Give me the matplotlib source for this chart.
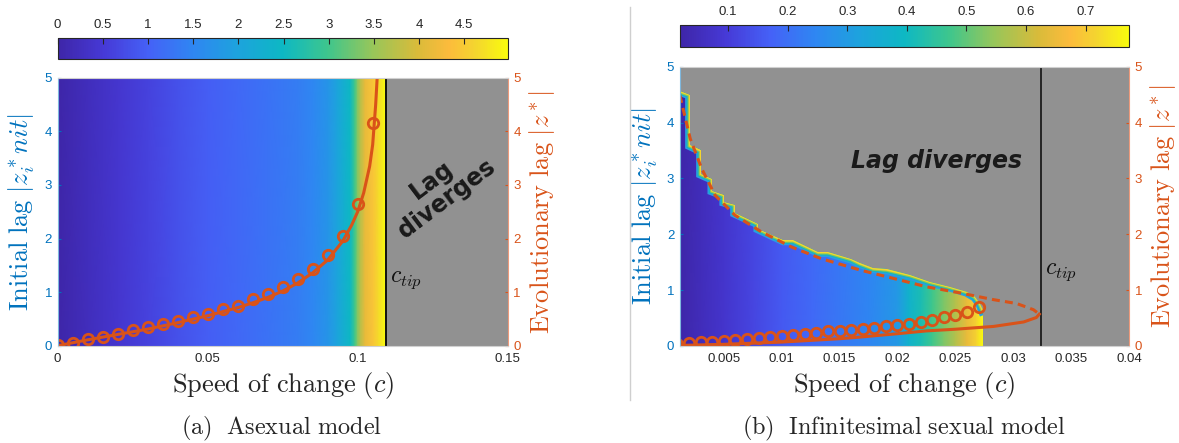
import numpy as np
import matplotlib
matplotlib.use('Agg')
import matplotlib.pyplot as plt
from matplotlib.colors import LinearSegmentedColormap
from matplotlib.patches import Polygon
from matplotlib.lines import Line2D

plt.rcParams['font.family'] = ['Liberation Sans', 'DejaVu Sans']
plt.rcParams['mathtext.fontset'] = 'cm'

BLUE = '#0072BD'
ORANGE = '#D95319'
GRAY = '#919191'
TXT = '#262626'

# ---------------- data, panel (a) asexual model ----------------
a_map_c = [0, 0.01, 0.02, 0.03, 0.04, 0.05, 0.06, 0.07, 0.08, 0.085, 0.09, 0.093,
           0.0975, 0.099, 0.1, 0.101, 0.1025, 0.105, 0.107, 0.109, 0.1096]
a_map_val = [0.0, 0.22, 0.42, 0.62, 0.8, 0.97, 1.1, 1.24, 1.38, 1.5, 1.75, 2.0,
             2.49, 2.99, 3.39, 3.74, 4.13, 4.43, 4.68, 4.93, 4.98]
a_c_tip = 0.1096

a_circ_c = [0, 0.005, 0.01, 0.015, 0.02, 0.025, 0.03, 0.035, 0.04, 0.045, 0.05,
            0.055, 0.06, 0.065, 0.07, 0.075, 0.08, 0.085, 0.09, 0.095, 0.1, 0.105]
a_circ_lag = [0.02, 0.06, 0.125, 0.17, 0.22, 0.29, 0.34, 0.40, 0.47, 0.53, 0.60,
              0.68, 0.75, 0.87, 0.96, 1.09, 1.24, 1.43, 1.69, 2.05, 2.64, 4.15]

a_line_c = [0, 0.01, 0.02, 0.03, 0.04, 0.05, 0.06, 0.065, 0.07, 0.075, 0.08, 0.085,
            0.09, 0.095, 0.098, 0.1, 0.102, 0.104, 0.105, 0.106, 0.1065, 0.107]
a_line_lag = [0, 0.11, 0.21, 0.31, 0.43, 0.56, 0.71, 0.80, 0.90, 1.02, 1.17, 1.36,
              1.60, 1.95, 2.25, 2.50, 2.85, 3.35, 3.75, 4.5, 5.0, 5.6]

# ---------------- data, panel (b) infinitesimal sexual model ----------------
b_map_c = [0.0012, 0.003, 0.005, 0.0075, 0.01, 0.0125, 0.015, 0.0175, 0.02, 0.021,
           0.022, 0.023, 0.024, 0.025, 0.026, 0.0268, 0.02736]
b_map_val = [0.019, 0.049, 0.079, 0.117, 0.155, 0.185, 0.215, 0.245, 0.290, 0.373,
             0.419, 0.471, 0.524, 0.577, 0.645, 0.713, 0.773]

b_bnd_c = [0.0012, 0.00208, 0.00208, 0.00303, 0.00303, 0.00401, 0.00401, 0.00504,
           0.00504, 0.00597, 0.00597, 0.00798, 0.00798, 0.01014, 0.0110, 0.01316,
           0.0140, 0.0160, 0.01677, 0.01791, 0.01907, 0.0211, 0.02281, 0.02454,
           0.02598, 0.0267, 0.02713, 0.02736, 0.02736]
b_bnd_v = [4.56, 4.50, 3.59, 3.50, 3.08, 2.99, 2.78, 2.70, 2.58, 2.53, 2.38, 2.19,
           2.10, 1.89, 1.89, 1.68, 1.68, 1.56, 1.48, 1.39, 1.37, 1.27, 1.15, 1.06,
           0.97, 0.88, 0.76, 0.64, 0.0]
b_c_tip = 0.0324

b_circ_c = [0.001, 0.002, 0.003, 0.004, 0.005, 0.006, 0.007, 0.008, 0.009, 0.010,
            0.011, 0.012, 0.013, 0.014, 0.015, 0.016, 0.017, 0.018, 0.019, 0.020,
            0.021, 0.022, 0.023, 0.024, 0.025, 0.026, 0.027]
b_circ_lag = [0.04, 0.05, 0.07, 0.08, 0.095, 0.11, 0.13, 0.15, 0.165, 0.185,
              0.20, 0.22, 0.24, 0.26, 0.275, 0.29, 0.31, 0.33, 0.35, 0.375,
              0.40, 0.43, 0.47, 0.51, 0.56, 0.61, 0.70]

b_unst_c = [0.0012, 0.0021, 0.0031, 0.00424, 0.00597, 0.00827, 0.01087, 0.01346,
            0.01677, 0.01964, 0.0225, 0.0254, 0.02828, 0.0303, 0.03174, 0.03225]
b_unst_lag = [4.49, 3.71, 3.17, 2.70, 2.34, 2.04, 1.77, 1.56, 1.36, 1.21, 1.06,
              0.95, 0.83, 0.76, 0.65, 0.57]
b_st_c = [0.0012, 0.005, 0.01, 0.015, 0.0168, 0.02, 0.0225, 0.025, 0.0283, 0.0309,
          0.032, 0.03225]
b_st_lag = [0.01, 0.03, 0.07, 0.13, 0.16, 0.22, 0.27, 0.30, 0.35, 0.43, 0.51, 0.57]

# parula-like colormap
parula = LinearSegmentedColormap.from_list('parula_like', [
    (0.0, '#3E26A8'), (0.1, '#4639D6'), (0.2, '#4561F7'), (0.3, '#2F86F2'),
    (0.4, '#1DA3DD'), (0.5, '#0DB8C4'), (0.6, '#3EC68D'), (0.7, '#97C65A'),
    (0.8, '#D9BB3A'), (0.87, '#FCBB3C'), (0.93, '#F4D52F'), (1.0, '#F9FB0E')])

fig = plt.figure(figsize=(11.79, 4.43), dpi=100)

ylab_l = r'$\mathrm{Initial\ lag}\ |z_i^* nit|$'
ylab_r = r'$\mathrm{Evolutionary\ lag}\ |z^*|$'
xlab = r'$\mathrm{Speed\ of\ change}\ (c)$'


def dress(ax, ax2, lx, rx):
    for s in ax.spines.values():
        s.set_visible(False)
    ax2.spines['left'].set_color('#7FB8DE')
    ax2.spines['right'].set_color('#EC9A7C')
    ax2.spines['top'].set_color('#D0D0D0')
    ax2.spines['bottom'].set_color('#D0D0D0')
    for s in ax2.spines.values():
        s.set_linewidth(0.8)
    ax.set_ylim(0, 5)
    ax2.set_ylim(0, 5)
    ax.set_yticks(range(6))
    ax2.set_yticks(range(6))
    ax.tick_params(axis='y', colors=BLUE, labelsize=9.5, direction='in', length=2, pad=4)
    ax2.tick_params(axis='y', colors=ORANGE, labelsize=9.5, direction='in', length=2, pad=4)
    ax.tick_params(axis='x', colors=TXT, labelsize=9.5, length=0, pad=5)
    ax.set_ylabel(ylab_l, color=BLUE, fontsize=19)
    ax.yaxis.set_label_coords(lx, 0.5)
    ax2.set_ylabel(ylab_r, color=ORANGE, fontsize=19)
    ax2.yaxis.set_label_coords(rx, 0.5)
    ax.set_xlabel(xlab, color=TXT, fontsize=19, labelpad=4)


def cbar(mesh, rect, ticks, labels):
    cax = fig.add_axes(rect)
    cb = fig.colorbar(mesh, cax=cax, orientation='horizontal')
    cb.set_ticks(ticks)
    cb.set_ticklabels(labels)
    cax.xaxis.set_ticks_position('top')
    cax.tick_params(direction='in', length=4, labelsize=9.5, colors=TXT, pad=5, width=0.8)
    cb.outline.set_edgecolor(TXT)
    cb.outline.set_linewidth(0.8)


# ---------------- panel (a) ----------------
ax = fig.add_axes([0.0489, 0.2196, 0.3817, 0.605])
ax.set_facecolor(GRAY)
mesh_a = ax.pcolormesh(a_map_c, [0, 5], np.tile(a_map_val, (2, 1)), cmap=parula,
                       vmin=0, vmax=4.98, shading='gouraud')
ax.axvline(a_c_tip, color='#111111', lw=1.4)
ax.set_xlim(0, 0.15)
ax.set_xticks([0, 0.05, 0.1, 0.15])
ax.set_xticklabels(['0', '0.05', '0.1', '0.15'])
ax2 = ax.twinx()
ax2.plot(a_line_c, a_line_lag, color=ORANGE, lw=2.2)
ax2.plot(a_circ_c, a_circ_lag, 'o', mfc='none', mec=ORANGE, mew=2, ms=7.5)
ax2.text(0.1272, 2.92, 'Lag\ndiverges', rotation=37, ha='center', va='center',
         fontsize=17, fontweight='bold', family='DejaVu Sans', color='#1A1A1A',
         linespacing=1.0, multialignment='center')
ax2.text(0.1108, 1.23, r'$c_{tip}$', ha='left', va='center', fontsize=17, color='#111111')
dress(ax, ax2, -0.046, 1.043)
cbar(mesh_a, [0.0489, 0.8668, 0.3817, 0.0481], [0, 0.5, 1, 1.5, 2, 2.5, 3, 3.5, 4, 4.5],
     ['0', '0.5', '1', '1.5', '2', '2.5', '3', '3.5', '4', '4.5'])

# ---------------- panel (b) ----------------
bx = fig.add_axes([0.5766, 0.219, 0.381, 0.6305])
bx.set_facecolor(GRAY)
mesh_b = bx.pcolormesh(b_map_c, [0, 5], np.tile(b_map_val, (2, 1)), cmap=parula,
                       vmin=0.019, vmax=0.773, shading='gouraud')
region = Polygon(list(zip(b_bnd_c, b_bnd_v)) + [(b_bnd_c[0], 0.0)], closed=True,
                 transform=bx.transData, facecolor='none', edgecolor='none')
mesh_b.set_clip_path(region)
# coloured fringe just under the stepped top edge
for col, w in [('#2C9CE4', 7.0), ('#12B6C2', 5.0), ('#86C85C', 3.4), ('#F4D62E', 1.8)]:
    ln, = bx.plot(b_bnd_c[:-1], b_bnd_v[:-1], color=col, lw=w, solid_joinstyle='miter')
    ln.set_clip_path(region)
bx.axvline(b_c_tip, color='#111111', lw=1.2)
bx.set_xlim(0.0012, 0.04)
bx.set_xticks([0.005, 0.01, 0.015, 0.02, 0.025, 0.03, 0.035, 0.04])
bx.set_xticklabels(['0.005', '0.01', '0.015', '0.02', '0.025', '0.03', '0.035', '0.04'])
bx2 = bx.twinx()
bx2.plot(b_unst_c, b_unst_lag, color=ORANGE, lw=2.2, linestyle=(0, (2.6, 1.7)))
bx2.plot(b_st_c, b_st_lag, color=ORANGE, lw=2.2)
bx2.plot(b_circ_c, b_circ_lag, 'o', mfc='none', mec=ORANGE, mew=2, ms=7.5)
bx2.text(0.0234, 3.31, 'Lag diverges', ha='center', va='center', fontsize=17,
         fontweight='bold', fontstyle='italic', family='DejaVu Sans', color='#1A1A1A')
bx2.text(0.03275, 1.33, r'$c_{tip}$', ha='left', va='center', fontsize=17, color='#111111')
dress(bx, bx2, -0.044, 1.042)
cbar(mesh_b, [0.5766, 0.8932, 0.381, 0.0503], [0.1, 0.2, 0.3, 0.4, 0.5, 0.6, 0.7],
     ['0.1', '0.2', '0.3', '0.4', '0.5', '0.6', '0.7'])

# separator and captions
fig.add_artist(Line2D([0.534, 0.534], [0.097, 0.984], color='#CFCFCF', lw=1,
                      transform=fig.transFigure))
fig.text(0.239, 0.034, r'$\mathrm{(a)\ \ Asexual\ model}$', ha='center', va='center',
         fontsize=17.5, color=TXT)
fig.text(0.7663, 0.034, r'$\mathrm{(b)\ \ Infinitesimal\ sexual\ model}$', ha='center',
         va='center', fontsize=17.5, color=TXT)

fig.savefig('out.png', dpi=100)
